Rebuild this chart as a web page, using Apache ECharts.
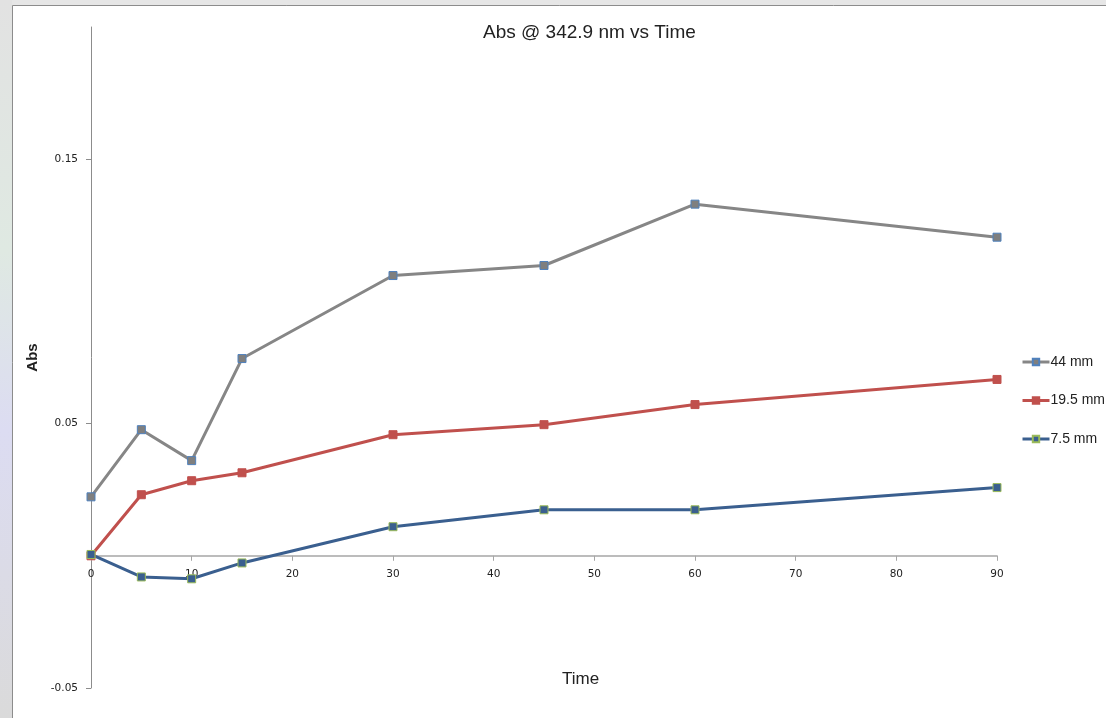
<!DOCTYPE html>
<html>
<head>
<meta charset="utf-8">
<script src="https://cdn.jsdelivr.net/npm/echarts@6/dist/echarts.min.js"></script>
<style>
  html, body { margin: 0; padding: 0; background: #e6e6e6; }
  #chart { width: 1106px; height: 718px; }
</style>
</head>
<body>
<div id="chart"></div>
<script>
// Sampling times (minutes)
const times = [0, 5, 10, 15, 30, 45, 60, 90];

// Absorbance at 342.9 nm for each path
const abs44 = [0.0223, 0.0477, 0.0360, 0.0746, 0.1060, 0.1098, 0.1330, 0.1205];
const abs195 = [0.0000, 0.0231, 0.0284, 0.0314, 0.0458, 0.0496, 0.0572, 0.0667];
const abs75 = [0.0005, -0.0080, -0.0087, -0.0027, 0.0110, 0.0174, 0.0174, 0.0258];

const seriesNames = ['44 mm', '19.5 mm', '7.5 mm'];
const yTickValues = [-0.05, 0.05, 0.15];

const pairs = (ys) => times.map((t, i) => [t, ys[i]]);

const chart = echarts.init(document.getElementById('chart'), null, { renderer: 'canvas' });

const labelFont = { fontFamily: 'DejaVu Sans', fontSize: 10.5, color: '#222' };

// plot box
const gridTop = 27, gridBottom = 30;
const plotHeight = 718 - gridTop - gridBottom;
const yMin = -0.05, yMax = 0.2;
// distance from the bottom of the plot up to the zero line
const zeroLift = plotHeight * (0 - yMin) / (yMax - yMin);

function lineSeries(name, values, lineColor, fill, border) {
  return {
    name: name,
    type: 'line',
    data: pairs(values),
    symbol: 'rect',
    symbolSize: 8,
    lineStyle: { color: lineColor, width: 3 },
    itemStyle: { color: fill, borderColor: border, borderWidth: 1 },
    emphasis: { disabled: true },
    animation: false
  };
}

chart.setOption({
  animation: false,
  backgroundColor: 'transparent',
  graphic: [
    {
      type: 'rect',
      shape: { x: 0, y: 0, width: 12, height: 718 },
      style: {
        fill: new echarts.graphic.LinearGradient(0, 0, 0, 1, [
          { offset: 0, color: '#e2e2e2' },
          { offset: 0.35, color: '#dfe9e2' },
          { offset: 0.6, color: '#dcdcf2' },
          { offset: 1, color: '#dadada' }
        ])
      },
      z: -10
    },
    {
      type: 'rect',
      shape: { x: 12.5, y: 5.5, width: 1100, height: 720 },
      style: { fill: '#ffffff', stroke: '#8c8c8c', lineWidth: 1 },
      z: -9
    },
    {
      type: 'text',
      left: 562,
      top: 671,
      style: { text: 'Time', fontFamily: 'Liberation Sans', fontSize: 17, fill: '#222' }
    }
  ],
  title: {
    text: 'Abs @ 342.9 nm vs Time',
    left: 478,
    top: 18,
    textStyle: { fontFamily: 'Liberation Sans', fontSize: 19, fontWeight: 'normal', color: '#222' }
  },
  legend: {
    orient: 'vertical',
    left: 1016,
    top: 350,
    itemWidth: 27,
    itemHeight: 8,
    itemGap: 24.5,
    data: seriesNames,
    lineStyle: { width: 3 },
    textStyle: { fontFamily: 'Liberation Sans', fontSize: 14, color: '#222', padding: [0, 0, 0, -4] }
  },
  grid: { left: 91, right: 109, top: gridTop, bottom: gridBottom, containLabel: false },
  xAxis: {
    type: 'value',
    min: 0,
    max: 90,
    interval: 10,
    offset: -zeroLift,
    axisLine: { onZero: false, lineStyle: { color: '#a6a6a6', width: 1.5 } },
    axisTick: { show: true, length: 5, lineStyle: { color: '#a6a6a6' } },
    axisLabel: Object.assign({ margin: 13 }, labelFont),
    splitLine: { show: false }
  },
  yAxis: {
    type: 'value',
    min: yMin,
    max: yMax,
    interval: 0.1,
    name: 'Abs',
    nameLocation: 'middle',
    nameGap: 48,
    nameTextStyle: { fontFamily: 'Liberation Sans', fontSize: 15, fontWeight: 'bold', color: '#222' },
    axisLine: { show: true, lineStyle: { color: '#8c8c8c', width: 1 } },
    axisTick: { show: true, length: 5, customValues: yTickValues, lineStyle: { color: '#8c8c8c' } },
    axisLabel: Object.assign({ margin: 13, customValues: yTickValues }, labelFont),
    splitLine: { show: false }
  },
  series: [
    lineSeries(seriesNames[0], abs44, '#868686', '#7f7f7f', '#4f81bd'),
    lineSeries(seriesNames[1], abs195, '#c0504d', '#c0504d', '#c0504d'),
    lineSeries(seriesNames[2], abs75, '#3a5f8f', '#3a5f8f', '#9bbb59')
  ]
});
</script>
</body>
</html>
